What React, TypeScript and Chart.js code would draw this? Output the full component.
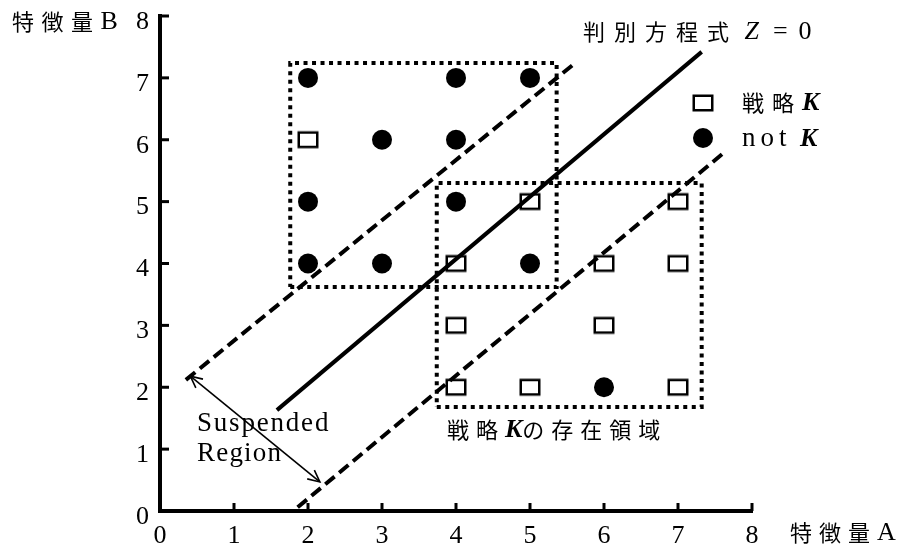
import React, { useEffect, useRef } from 'react';
import { Chart, registerables } from 'chart.js';

Chart.register(...registerables);

// ---- data ----
const TICK_VALUES = [0, 1, 2, 3, 4, 5, 6, 7, 8];
const TICK_LABELS = ['0', '1', '2', '3', '4', '5', '6', '7', '8'];

const STRATEGY_K_X = [2, 5, 4, 6, 7, 7, 4, 6, 4, 5, 7];
const STRATEGY_K_Y = [6, 5, 4, 4, 4, 5, 3, 3, 2, 2, 2];

const NOT_K_X = [2, 4, 5, 3, 4, 2, 4, 2, 3, 5, 6];
const NOT_K_Y = [7, 7, 7, 6, 6, 5, 5, 4, 4, 4, 2];

const Z0_LINE_X = [1.58, 7.32];
const Z0_LINE_Y = [1.63, 7.42];

const UPPER_BOUND_X = [0.35, 5.61];
const UPPER_BOUND_Y = [2.12, 7.24];

const LOWER_BOUND_X = [1.86, 7.61];
const LOWER_BOUND_Y = [0.06, 5.78];

const NOT_K_REGION_X = [1.76, 5.36];
const NOT_K_REGION_Y = [3.62, 7.24];

const K_REGION_X = [3.74, 7.32];
const K_REGION_Y = [1.68, 5.3];

const SUSPENDED_ARROW_X = [0.41, 2.16];
const SUSPENDED_ARROW_Y = [2.18, 0.47];

// ---- helpers ----
const zip = (xs: number[], ys: number[]) => xs.map((x, i) => ({ x, y: ys[i] }));
const rectPath = (xs: number[], ys: number[]) => [
  { x: xs[0], y: ys[0] },
  { x: xs[1], y: ys[0] },
  { x: xs[1], y: ys[1] },
  { x: xs[0], y: ys[1] },
  { x: xs[0], y: ys[0] },
];

const CJK = '"Noto Sans CJK JP", sans-serif';
const SERIF = '"Liberation Serif", serif';

type Run = { text: string; font: string; spacing: number };

function drawRuns(ctx: CanvasRenderingContext2D, runs: Run[], x: number, y: number) {
  let cx = x;
  for (const r of runs) {
    ctx.font = r.font;
    for (const ch of Array.from(r.text)) {
      ctx.fillText(ch, cx, y);
      cx += ctx.measureText(ch).width + r.spacing;
    }
  }
}

function makeSquare(): HTMLCanvasElement {
  const c = document.createElement('canvas');
  c.width = 24;
  c.height = 20;
  const g = c.getContext('2d')!;
  g.strokeStyle = '#000';
  g.lineWidth = 2.5;
  g.strokeRect(2.75, 2.75, 18.5, 14.5);
  return c;
}

const annotationsPlugin = {
  id: 'annotations',
  afterDraw(chart: any) {
    const ctx: CanvasRenderingContext2D = chart.ctx;
    const xs = chart.scales.x;
    const ys = chart.scales.y;
    const area = chart.chartArea;
    ctx.save();
    ctx.fillStyle = '#000';
    ctx.strokeStyle = '#000';

    // inward tick marks
    ctx.lineWidth = 3;
    ctx.setLineDash([]);
    for (const v of TICK_VALUES) {
      if (v === 0) continue;
      const px = xs.getPixelForValue(v);
      ctx.beginPath();
      ctx.moveTo(px, area.bottom);
      ctx.lineTo(px, area.bottom - 8);
      ctx.stroke();
      const py = ys.getPixelForValue(v);
      ctx.beginPath();
      ctx.moveTo(area.left, py);
      ctx.lineTo(area.left + 9, py);
      ctx.stroke();
    }

    // double-headed arrow for suspended region
    const ax0 = xs.getPixelForValue(SUSPENDED_ARROW_X[0]);
    const ay0 = ys.getPixelForValue(SUSPENDED_ARROW_Y[0]);
    const ax1 = xs.getPixelForValue(SUSPENDED_ARROW_X[1]);
    const ay1 = ys.getPixelForValue(SUSPENDED_ARROW_Y[1]);
    ctx.lineWidth = 1.6;
    ctx.beginPath();
    ctx.moveTo(ax0, ay0);
    ctx.lineTo(ax1, ay1);
    ctx.stroke();
    const head = (tx: number, ty: number, fx: number, fy: number) => {
      const ang = Math.atan2(ty - fy, tx - fx);
      const len = 13;
      const spread = 0.45;
      ctx.beginPath();
      ctx.moveTo(tx - len * Math.cos(ang - spread), ty - len * Math.sin(ang - spread));
      ctx.lineTo(tx, ty);
      ctx.lineTo(tx - len * Math.cos(ang + spread), ty - len * Math.sin(ang + spread));
      ctx.stroke();
    };
    head(ax0, ay0, ax1, ay1);
    head(ax1, ay1, ax0, ay0);

    // texts
    ctx.textBaseline = 'middle';
    ctx.textAlign = 'left';
    const cjk = `22px ${CJK}`;
    const serif = `26px ${SERIF}`;
    const serifL = `27px ${SERIF}`;
    const italic = `italic 26px ${SERIF}`;
    const boldItalic = `italic bold 26px ${SERIF}`;

    // axis titles
    drawRuns(ctx, [{ text: '特徴量', font: cjk, spacing: 7.5 }, { text: 'B', font: serif, spacing: 0 }], 12, 22);
    drawRuns(ctx, [{ text: '特徴量', font: cjk, spacing: 7 }, { text: 'A', font: serif, spacing: 0 }], 790, 533);

    // discriminant title
    drawRuns(
      ctx,
      [
        { text: '判別方程式', font: cjk, spacing: 9 },
        { text: ' ', font: serif, spacing: 0 },
        { text: 'Z', font: italic, spacing: 14 },
        { text: '=', font: serif, spacing: 11 },
        { text: '0', font: serif, spacing: 0 },
      ],
      583,
      32
    );

    // legend
    const sq = makeSquare();
    ctx.drawImage(sq, 703 - sq.width / 2, 103 - sq.height / 2);
    ctx.beginPath();
    ctx.arc(703, 138, 10, 0, Math.PI * 2);
    ctx.fill();
    drawRuns(ctx, [{ text: '戦略', font: cjk, spacing: 8 }, { text: 'K', font: boldItalic, spacing: 0 }], 742, 103);
    drawRuns(ctx, [{ text: 'not', font: serifL, spacing: 5 }, { text: ' ', font: serif, spacing: 2 }, { text: 'K', font: boldItalic, spacing: 0 }], 742, 139);

    // region label
    drawRuns(
      ctx,
      [
        { text: '戦略', font: cjk, spacing: 7 },
        { text: 'K', font: boldItalic, spacing: 0 },
        { text: 'の存在領域', font: cjk, spacing: 7 },
      ],
      447,
      430
    );

    // suspended region label
    drawRuns(ctx, [{ text: 'Suspended', font: serifL, spacing: 1.8 }], 197, 424);
    drawRuns(ctx, [{ text: 'Region', font: serifL, spacing: 1.2 }], 197, 454);

    ctx.restore();
  },
};

export default function App() {
  const ref = useRef<HTMLCanvasElement>(null);

  useEffect(() => {
    const canvas = ref.current;
    if (!canvas) return;
    const squareImg = makeSquare();
    const tickFont = { family: '"Liberation Serif", serif', size: 26 };

    const chart = new Chart(canvas, {
      type: 'scatter',
      data: {
        datasets: [
          {
            label: 'not K',
            data: zip(NOT_K_X, NOT_K_Y),
            pointStyle: 'circle',
            pointRadius: 10,
            backgroundColor: '#000',
            borderColor: '#000',
            borderWidth: 0,
          },
          {
            label: '戦略K',
            data: zip(STRATEGY_K_X, STRATEGY_K_Y),
            pointStyle: squareImg as any,
            pointRadius: 10,
          },
          {
            label: 'Z=0',
            data: zip(Z0_LINE_X, Z0_LINE_Y),
            showLine: true,
            pointRadius: 0,
            borderColor: '#000',
            borderWidth: 4,
            clip: false as any,
          },
          {
            label: 'upper',
            data: zip(UPPER_BOUND_X, UPPER_BOUND_Y),
            showLine: true,
            pointRadius: 0,
            borderColor: '#000',
            borderWidth: 4,
            borderDash: [12, 6],
            clip: false as any,
          },
          {
            label: 'lower',
            data: zip(LOWER_BOUND_X, LOWER_BOUND_Y),
            showLine: true,
            pointRadius: 0,
            borderColor: '#000',
            borderWidth: 4,
            borderDash: [12, 6],
            clip: false as any,
          },
          {
            label: 'notK region',
            data: rectPath(NOT_K_REGION_X, NOT_K_REGION_Y),
            showLine: true,
            pointRadius: 0,
            borderColor: '#000',
            borderWidth: 4,
            borderDash: [4, 4.5],
            clip: false as any,
          },
          {
            label: 'K region',
            data: rectPath(K_REGION_X, K_REGION_Y),
            showLine: true,
            pointRadius: 0,
            borderColor: '#000',
            borderWidth: 4,
            borderDash: [4, 4.5],
            clip: false as any,
          },
        ],
      },
      options: {
        responsive: false,
        animation: false,
        events: [],
        layout: { padding: { left: 0, right: 151, top: 16, bottom: 0 } },
        plugins: {
          legend: { display: false },
          tooltip: { enabled: false },
        },
        scales: {
          x: {
            type: 'linear',
            min: 0,
            max: 8,
            afterFit: (s: any) => {
              s.height = 37;
              s.paddingLeft = 0;
              s.paddingRight = 0;
            },
            ticks: {
              stepSize: 1,
              color: '#000',
              font: tickFont,
              padding: 10,
              maxRotation: 0,
              callback: (v: any) => TICK_LABELS[TICK_VALUES.indexOf(Number(v))] ?? '',
            },
            grid: { drawOnChartArea: false, drawTicks: false, color: '#000' },
            border: { width: 4, color: '#000' },
          },
          y: {
            type: 'linear',
            min: 0,
            max: 8,
            afterFit: (s: any) => {
              s.width = 160;
              s.paddingTop = 0;
              s.paddingBottom = 0;
            },
            ticks: {
              stepSize: 1,
              color: '#000',
              font: tickFont,
              padding: 11,
              labelOffset: 6,
              callback: (v: any) => TICK_LABELS[TICK_VALUES.indexOf(Number(v))] ?? '',
            },
            grid: { drawOnChartArea: false, drawTicks: false, color: '#000' },
            border: { width: 4, color: '#000' },
          },
        },
      },
      plugins: [annotationsPlugin],
    } as any);

    return () => chart.destroy();
  }, []);

  return (
    <div style={{ position: 'fixed', left: 0, top: 0, width: 903, height: 548, background: '#fff' }}>
      <canvas ref={ref} width={903} height={548} style={{ display: 'block' }} />
    </div>
  );
}
